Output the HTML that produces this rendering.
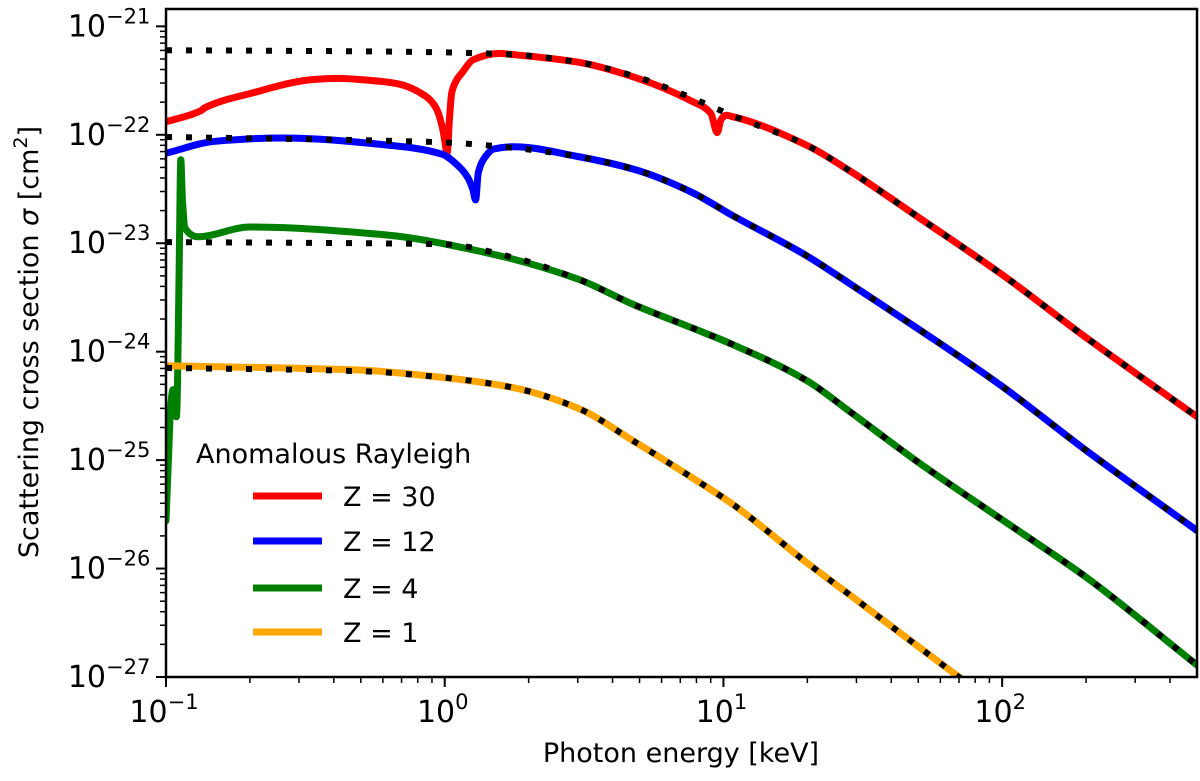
<!DOCTYPE html>
<html><head><meta charset="utf-8"><style>
html,body{margin:0;padding:0;background:#fff;width:1200px;height:781px;overflow:hidden;}
svg{display:block;overflow:hidden;font-family:"DejaVu Sans","Liberation Sans",sans-serif;}
</style></head><body>
<svg id="chart" width="1200" height="781"></svg>
<script>
// ---- data (log10 of sigma in cm^2) ----
const xTickLabels=["-1","0","1","2"];
const yTickLabels=["-21","-22","-23","-24","-25","-26","-27"];
const dotE=[0.1,0.5,1,1.75,3,4.8,7.7,10.7,20,28.3,50,100,200,500];
const dot30=[-21.22,-21.23,-21.24,-21.26,-21.33,-21.46,-21.66,-21.82,-22.1,-22.33,-22.76,-23.29,-23.87,-24.6];
const dot12=[-22.02,-22.05,-22.07,-22.12,-22.2,-22.32,-22.53,-22.74,-23.12,-23.37,-23.79,-24.32,-24.91,-25.65];
const dot4=[-22.99,-23.0,-23.01,-23.13,-23.33,-23.57,-23.78,-23.93,-24.27,-24.55,-25.02,-25.55,-26.08,-26.89];
const dot1=[-24.15,-24.18,-24.24,-24.33,-24.52,-24.83,-25.16,-25.4,-25.95,-26.24,-26.72,-27.3,-27.9,-28.7];
const anE30=[0.1,0.133,0.138,0.2,0.34,0.41,0.55,0.68,0.86,0.93,0.98,1.0,1.02,1.04,1.06,1.1,1.16,1.26,1.57,1.75,3,4.8,7.7,9.0,9.5,9.8,10.2,10.7,20,28.3,50,100,200,500];
const an30=[-21.88,-21.78,-21.75,-21.62,-21.49,-21.48,-21.5,-21.53,-21.65,-21.75,-21.93,-22.05,-22.17,-21.85,-21.61,-21.5,-21.42,-21.31,-21.25,-21.26,-21.33,-21.47,-21.69,-21.8,-21.98,-21.86,-21.82,-21.83,-22.1,-22.33,-22.76,-23.29,-23.87,-24.6];
const anE12=[0.1,0.15,0.26,0.6,0.98,1.1,1.2,1.26,1.29,1.32,1.4,1.5,1.77,3,4.8,7.7,10.7,20,28.3,50,100,200,500];
const an12=[-22.17,-22.06,-22.03,-22.09,-22.18,-22.27,-22.38,-22.5,-22.6,-22.35,-22.2,-22.13,-22.11,-22.2,-22.32,-22.53,-22.74,-23.12,-23.37,-23.79,-24.32,-24.91,-25.65];
const anE4=[0.1,0.102,0.104,0.106,0.107,0.109,0.11,0.1115,0.113,0.1145,0.117,0.13,0.2,0.6,1.37,3,4.8,7.7,10.7,20,28.3,50,100,200,500];
const an4=[-25.56,-25.0,-24.5,-24.35,-24.55,-24.6,-24.3,-23.2,-22.23,-22.6,-22.86,-22.94,-22.85,-22.92,-23.08,-23.33,-23.57,-23.78,-23.93,-24.27,-24.55,-25.02,-25.55,-26.08,-26.89];
const anE1=[0.1,0.5,1,1.75,3,4.8,7.7,10.7,20,28.3,50,100];
const an1=[-24.13,-24.17,-24.24,-24.33,-24.52,-24.83,-25.16,-25.4,-25.95,-26.24,-26.72,-27.3];

const NS="http://www.w3.org/2000/svg";
const svg=document.getElementById('chart');
const L=166,R=1197,T=9,B=677;
const xmin=-1,xmax=Math.log10(500),ymin=-27,ymax=-20.84;
const X=e=>L+(Math.log10(e)-xmin)/(xmax-xmin)*(R-L);
const Y=ly=>B-(ly-ymin)/(ymax-ymin)*(B-T);
function mk(t,a,p){const e=document.createElementNS(NS,t);for(const k in a)e.setAttribute(k,a[k]);(p||svg).appendChild(e);return e;}
const clip=mk('clipPath',{id:'cp'});mk('rect',{x:L,y:T,width:R-L,height:B-T},clip);
const plot=mk('g',{'clip-path':'url(#cp)'});


function smoothPath(px,py){
  const n=px.length,d=[],m=[];
  for(let i=0;i<n-1;i++)d.push((py[i+1]-py[i])/(px[i+1]-px[i]));
  for(let i=0;i<n;i++){
    if(i===0)m.push(d[0]);else if(i===n-1)m.push(d[n-2]);
    else if(d[i-1]*d[i]<=0)m.push(0);
    else{const h0=px[i]-px[i-1],h1=px[i+1]-px[i];const w1=2*h1+h0,w2=h1+2*h0;m.push((w1+w2)/(w1/d[i-1]+w2/d[i]));}
  }
  let s='M'+px[0].toFixed(1)+','+py[0].toFixed(1);
  for(let i=0;i<n-1;i++){const h=(px[i+1]-px[i])/3;
    s+='C'+(px[i]+h).toFixed(1)+','+(py[i]+m[i]*h).toFixed(1)+' '+(px[i+1]-h).toFixed(1)+','+(py[i+1]-m[i+1]*h).toFixed(1)+' '+px[i+1].toFixed(1)+','+py[i+1].toFixed(1);}
  return s;
}
function line(E,V,color,name,dotted){
  const d=smoothPath(E.map(X),V.map(Y));
  const p=mk('path',{d:d,fill:'none',stroke:color,'stroke-width':dotted?6:7,'stroke-linejoin':'round','stroke-linecap':dotted?'butt':'round'},plot);
  if(dotted)p.setAttribute('stroke-dasharray','6 14');
  
  
}
line(anE30,an30,'#ff0000','series-z30');
line(anE12,an12,'#0000ff','series-z12');
line(anE4,an4,'#008000','series-z4');
line(anE1,an1,'#ffa500','series-z1');
line(dotE,dot30,'#000','form-factor-z30',true);
line(dotE,dot12,'#000','form-factor-z12',true);
line(dotE,dot4,'#000','form-factor-z4',true);
line(dotE,dot1,'#000','form-factor-z1',true);
const fr=mk('rect',{x:L,y:T,width:R-L,height:B-T,fill:'none',stroke:'#000','stroke-width':2.5});


xTickLabels.forEach(s=>{const v=+s;const x=X(Math.pow(10,v));
  mk('line',{x1:x,x2:x,y1:B,y2:B+10,stroke:'#000','stroke-width':2});
  const t=mk('text',{x:x-2,y:B+45,'font-size':30,'text-anchor':'middle'});
  
  
  t.innerHTML='10<tspan font-size="21" dy="-13">'+s.replace('-','−')+'</tspan>';
  for(let m=2;m<10;m++){const xm=X(m*Math.pow(10,v));if(xm<R)mk('line',{x1:xm,x2:xm,y1:B,y2:B+6,stroke:'#000','stroke-width':1.5});}
});
yTickLabels.forEach(s=>{const v=+s;const y=Y(v);
  mk('line',{x1:L-10,x2:L,y1:y,y2:y,stroke:'#000','stroke-width':2});
  const t=mk('text',{x:L-60,y:y+10,'font-size':30,'text-anchor':'end'});
  
  
  t.textContent='10';
  const sp=mk('text',{x:L-60,y:y-3,'font-size':21,'text-anchor':'start'});
  sp.textContent=s.replace('-','−');
  for(let m=2;m<10;m++){const ym=Y(v+Math.log10(m));if(ym>T)mk('line',{x1:L-6,x2:L,y1:ym,y2:ym,stroke:'#000','stroke-width':1.5});}
});
const xt=mk('text',{x:681,y:762,'font-size':27,'text-anchor':'middle'});


xt.textContent='Photon energy [keV]';
const yt=mk('text',{x:0,y:0,'font-size':27,'text-anchor':'middle',transform:'translate(38,342) rotate(-90)'});


yt.innerHTML='Scattering cross section <tspan font-style="italic">σ</tspan> [cm<tspan font-size="19" dy="-11">2</tspan><tspan dy="11">]</tspan>';
const lg=mk('g',{});


const lt=mk('text',{x:196,y:463,'font-size':27},lg);lt.textContent='Anomalous Rayleigh';
const leg=[['Z = 30','#ff0000',496],['Z = 12','#0000ff',541],['Z = 4','#008000',588],['Z = 1','#ffa500',632]];
leg.forEach(([lab,c,y])=>{
  const g=mk('g',{},lg);
  
  
  mk('line',{x1:253,x2:322,y1:y,y2:y,stroke:c,'stroke-width':7},g);
  const t=mk('text',{x:343,y:y+10,'font-size':27},g);t.textContent=lab;
});
</script>
</body></html>
